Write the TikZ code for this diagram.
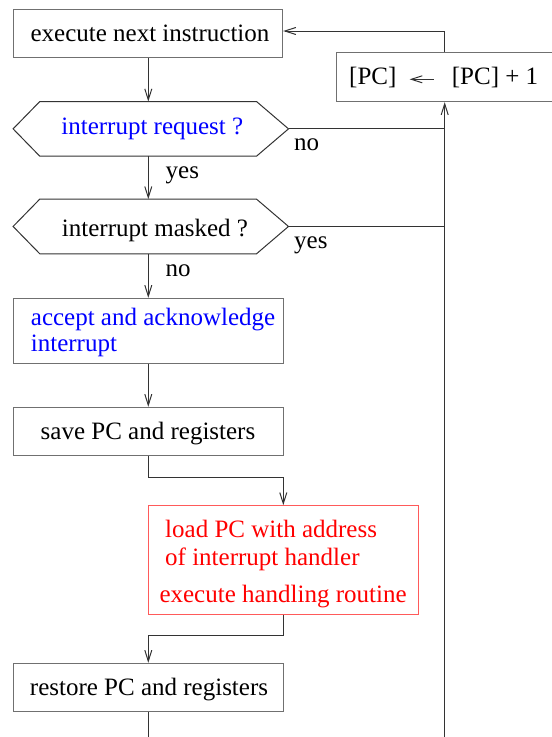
\documentclass[tikz,border=0pt]{standalone}
\usepackage{fontspec}
\setmainfont{Liberation Serif}
\usetikzlibrary{arrows.meta,calc}
\definecolor{bordergray}{HTML}{707070}
\definecolor{boxred}{HTML}{FF5A5A}
\definecolor{txtblue}{HTML}{0000FF}
\definecolor{txtred}{HTML}{FF0000}
\definecolor{linegray}{HTML}{333333}
\begin{document}
\begin{tikzpicture}[x=1pt,y=-1pt,
  box/.style={draw=bordergray,line width=1pt,inner sep=0pt,minimum width=270pt,minimum height=48.3pt},
  hexframe/.style={draw=none,inner sep=0pt,minimum width=275pt,minimum height=54.3pt},
  hexline/.style={draw=linegray,line width=1pt,line join=miter},
  redbox/.style={draw=boxred,line width=1pt,inner sep=0pt,minimum width=270pt,minimum height=108.3pt},
  txt/.style={inner sep=0pt,font=\fontsize{25}{29}\selectfont},
  lbl/.style={txt,anchor=base west},
  conn/.style={draw=linegray,line width=1pt},
  arr/.style={conn,-{Straight Barb[length=11pt,width=7pt,line width=1pt]}}
]
\clip (0,0) rectangle (552,737);

% boxes
\node[box,minimum width=269.4pt] (b1) at (148,33.15) {};
\node[box,minimum width=216.6pt,minimum height=49pt] (pc) at (445,77.2) {};
\node[hexframe] (h1) at (150.8,128.85) {};
\node[hexframe] (h2) at (150.8,226.45) {};
\node[box,minimum height=65pt] (acc) at (148.3,330.8) {};
\node[box,minimum height=48.2pt] (save) at (148.3,431.4) {};
\node[redbox] (red) at (283.3,559.85) {};
\node[box,minimum height=48.4pt] (rest) at (148.3,687.5) {};

% hexagons
\foreach \h in {h1,h2}{
  \draw[hexline] (\h.west) -- ([xshift=26.7pt]\h.north west) -- ([xshift=-32pt]\h.north east)
    -- (\h.east) -- ([xshift=-32pt]\h.south east) -- ([xshift=26.7pt]\h.south west) -- cycle;
}

% texts
\node[txt,anchor=base] (t1) at (150,41.7) {execute next instruction};
\node[txt,anchor=base west] (pcA) at (349,84.3) {[PC]};
\node[txt,anchor=base west] (pcB) at (451.7,84.3) {[PC] + 1};
\node[txt,anchor=base,text=txtblue] (th1) at (152.3,134.3) {interrupt request ?};
\node[txt,anchor=base] (th2) at (155,236.8) {interrupt masked ?};
\node[txt,anchor=base west,text=txtblue] (ta1) at (30.7,325) {accept and acknowledge};
\node[txt,anchor=base west,text=txtblue] (ta2) at (30.7,351.7) {interrupt};
\node[txt,anchor=base] (ts) at (148,439.3) {save PC and registers};
\node[txt,anchor=base west,text=txtred] (tr1) at (165,537.7) {load PC with address};
\node[txt,anchor=base west,text=txtred] (tr2) at (165,565) {of interrupt handler};
\node[txt,anchor=base west,text=txtred] (tr3) at (159.3,602.7) {execute handling routine};
\node[txt,anchor=base] (trs) at (149,695) {restore PC and registers};

% branch labels
\node[lbl] (no1) at (294,150) {no};
\node[lbl] (yes1) at (165.5,178) {yes};
\node[lbl] (yes2) at (294,248) {yes};
\node[lbl] (no2) at (165.5,276.7) {no};

% small arrow inside PC box
\coordinate (pcArrT) at ($(pcA.base east)+(13,-5)$);
\coordinate (pcArrS) at ($(pcB.base west)+(-18,-5)$);
\draw[arr,line width=0.8pt] (pcArrS) -- (pcArrT);

% free ends at the bottom
\coordinate (bl) at (148.3,737);
\coordinate (br) at (444.7,737);
\coordinate (topturn) at (444.7,31);

% connectors
\draw[arr] (b1.south -| acc.north) -- (acc.north |- h1.north);
\draw[arr] (acc.north |- h1.south) -- (acc.north |- h2.north);
\draw[arr] (acc.north |- h2.south) -- (acc.north);
\draw[arr] (acc.south) -- (save.north);
\draw[arr] (save.south) -- ++(0,21.8) -| (red.north);
\draw[arr] (red.south) -- ++(0,21) -| (rest.north);
\draw[conn] (rest.south) -- (bl);
\draw[arr] (br) -- (br |- pc.south);
\draw[conn] (h1.east) -- (h1.east -| br);
\draw[conn] (h2.east) -- (h2.east -| br);
\draw[arr] (br |- pc.north) -- (topturn) -- (topturn -| b1.east);
\end{tikzpicture}
\end{document}
